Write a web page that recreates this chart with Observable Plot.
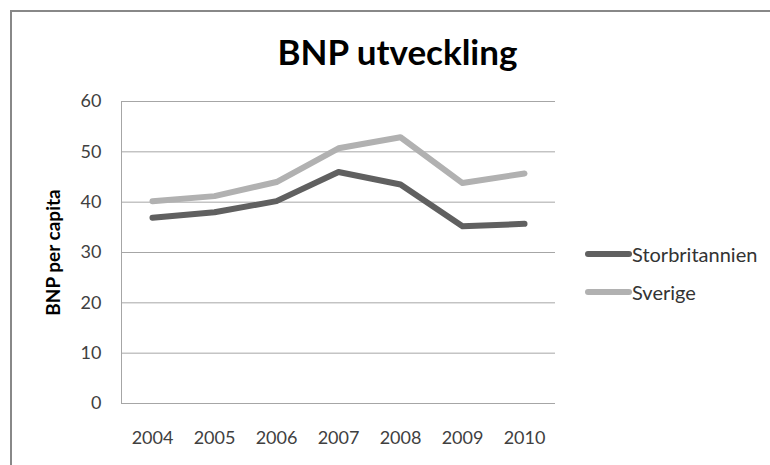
<!DOCTYPE html>
<html>
<head>
<meta charset="utf-8">
<script src="https://cdn.jsdelivr.net/npm/d3@7"></script>
<script src="https://cdn.jsdelivr.net/npm/@observablehq/plot@0.6"></script>
<style>
  html, body { margin: 0; padding: 0; background: #fff; }
  #wrap { position: relative; width: 770px; height: 465px; overflow: hidden; background: #fff; font-family: Lato, "Open Sans", sans-serif; }
  #border { position: absolute; left: 10px; top: 10px; width: 820px; height: 520px; border: 2px solid #888; box-sizing: border-box; }
  #chart { position: absolute; left: 0; top: 0; }
  #legend { position: absolute; left: 585px; top: 242px; }
  .item { position: absolute; left: 0; display: flex; align-items: center; white-space: nowrap; font-size: 20px; color: #333; }
  .sw { width: 47px; height: 6px; border-radius: 3px; }
</style>
</head>
<body>
<div id="wrap">
  <div id="border"></div>
  <div id="chart"></div>
  <div id="legend"></div>
</div>
<script>
const years = ["2004", "2005", "2006", "2007", "2008", "2009", "2010"];
const seriesNames = ["Storbritannien", "Sverige"];
const storbritannien = [36.9, 38.0, 40.2, 46.0, 43.5, 35.2, 35.7];
const sverige = [40.2, 41.2, 44.0, 50.7, 52.9, 43.8, 45.7];
const yTicks = [0, 10, 20, 30, 40, 50, 60];
const title = "BNP utveckling";
const yLabel = "BNP per capita";
const colors = ["#606060", "#b1b1b1"];

const seriesValues = [storbritannien, sverige];
const data = [];
seriesNames.forEach((s, i) => years.forEach((y, j) => data.push({series: s, year: y, value: seriesValues[i][j]})));

const plot = Plot.plot({
  width: 770,
  height: 465,
  marginLeft: 121,
  marginRight: 215,
  marginTop: 101,
  marginBottom: 62,
  style: { fontFamily: "Lato, 'Open Sans', sans-serif", background: "transparent", color: "#404040" },
  x: { type: "point", domain: years, padding: 0.5 },
  y: { domain: [0, 60] },
  color: { domain: seriesNames, range: colors },
  marks: [
    Plot.ruleY(yTicks, { stroke: "#a6a6a6", strokeWidth: 1 }),
    Plot.frame({ anchor: "left", stroke: "#a6a6a6" }),
    Plot.axisY({ ticks: yTicks, tickSize: 0, tickPadding: 20, fontSize: 18, label: null }),
    Plot.axisX({ tickSize: 0, tickPadding: 28, fontSize: 18, label: null }),
    Plot.line(data, { x: "year", y: "value", z: "series", stroke: "series", strokeWidth: 6, strokeLinecap: "round", strokeLinejoin: "round" }),
    Plot.text([title], { text: d => d, frameAnchor: "top", lineAnchor: "bottom", dy: -37, dx: 59, fontSize: 35, fontWeight: "bold", fill: "#000" }),
    Plot.text([yLabel], { text: d => d, frameAnchor: "left", rotate: -90, dx: -68, lineAnchor: "middle", textAnchor: "middle", fontSize: 19, fontWeight: "bold", fill: "#000" })
  ]
});
document.getElementById("chart").appendChild(plot);

const legend = document.getElementById("legend");
seriesNames.forEach((s, i) => {
  const item = document.createElement("div");
  item.className = "item";
  item.style.top = (i * 38) + "px";
  const sw = document.createElement("div");
  sw.className = "sw";
  sw.style.background = colors[i];
  const label = document.createElement("span");
  label.textContent = s;
  item.appendChild(sw);
  item.appendChild(label);
  legend.appendChild(item);
});
</script>
</body>
</html>
